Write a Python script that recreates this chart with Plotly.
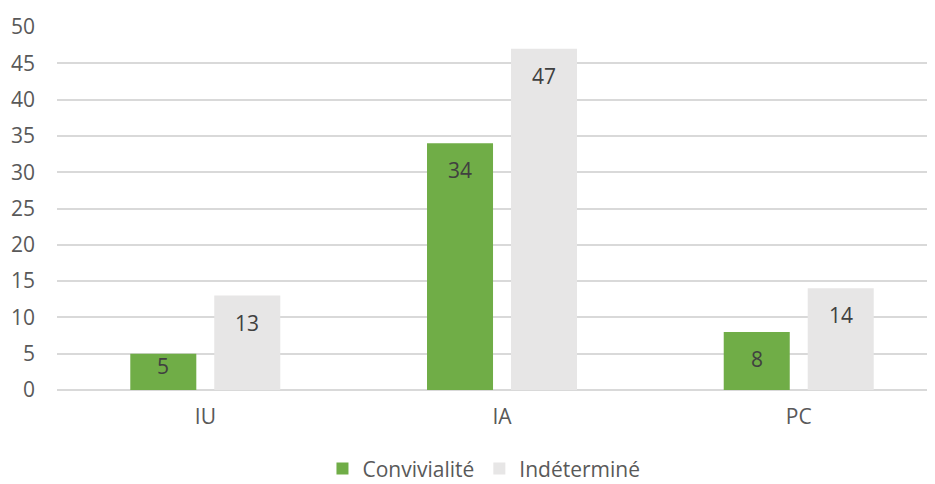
import plotly.graph_objects as go

categories = ["IU", "IA", "PC"]
convivialite = [5, 34, 8]
indetermine = [13, 47, 14]
series_names = ["Convivialité", "Indéterminé"]
colors = ["#70AD47", "#E7E6E6"]
y_ticks = list(range(0, 55, 5))

FONT = "Open Sans"
FS = 21
# page body has an 8px margin, so the figure is 927x476 placed at (8, 8)
W, H = 927, 476
L, T, B = 49, 18.5, 94
plot_h = H - T - B
px_per_unit = plot_h / 50.0

bar_w = 0.2225
offsets = [-0.253, 0.030]

fig = go.Figure()
for name, vals, col, off in zip(series_names, [convivialite, indetermine], colors, offsets):
    fig.add_trace(go.Bar(
        x=categories, y=vals, name=name, marker=dict(color=col, line=dict(width=0)),
        width=bar_w, offset=off, hoverinfo="skip",
    ))

# data labels (inside end)
for vals, off in zip([convivialite, indetermine], offsets):
    for i, v in enumerate(vals):
        top_px = v * px_per_unit
        shift = -27 if top_px - 27 >= 24 else -(top_px - 24)
        fig.add_annotation(
            x=i + off + bar_w / 2, y=v, yshift=shift, text=str(v), showarrow=False,
            xref="x", yref="y", font=dict(family=FONT, size=FS, color="#404040"),
        )

fig.update_layout(
    width=W, height=H,
    margin=dict(l=L, r=0, t=T, b=B, autoexpand=False),
    plot_bgcolor="white", paper_bgcolor="white",
    barmode="overlay",
    showlegend=True,
    legend=dict(orientation="h", x=0.4863, xanchor="center", y=-0.217, yanchor="middle",
                font=dict(family=FONT, size=FS, color="#595959"),
                itemclick=False, traceorder="normal"),
    font=dict(family=FONT, size=FS, color="#595959"),
)
fig.update_xaxes(
    type="category", range=[-0.5, 2.459], showgrid=False, showline=False,
    ticks="", tickfont=dict(family=FONT, size=FS, color="#595959"),
    ticklabelstandoff=12, automargin=False,
)
fig.update_yaxes(
    range=[0, 50], tickvals=y_ticks, showgrid=True, gridcolor="#D9D9D9", gridwidth=1.5,
    zeroline=True, zerolinecolor="#D9D9D9", zerolinewidth=1.5, showline=False,
    ticks="", tickfont=dict(family=FONT, size=FS, color="#595959"),
    ticklabelstandoff=21, automargin=False,
)

fig.write_html("out.html")
